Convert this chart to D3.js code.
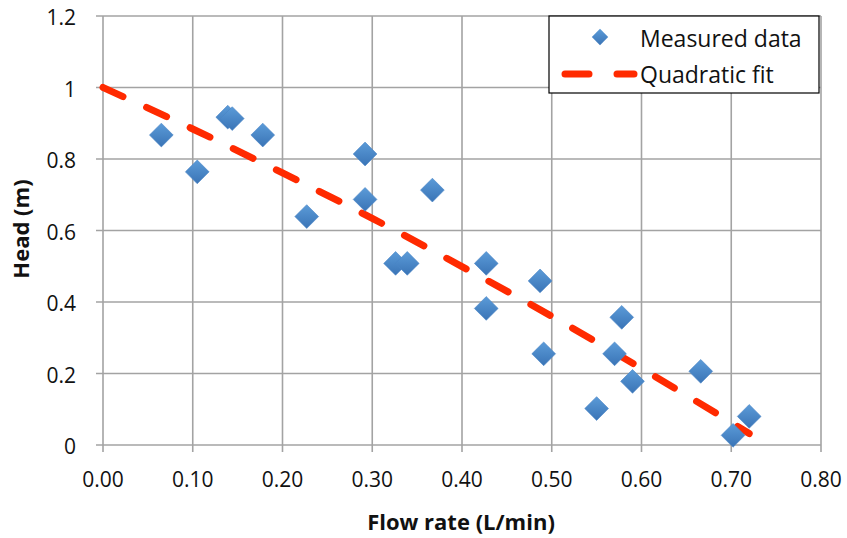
<!DOCTYPE html>
<html><head><meta charset="utf-8">
<script src="https://cdn.jsdelivr.net/npm/d3@7"></script>
<style>body{margin:0;background:#fff}svg{display:block}text{font-family:"Open Sans",Lato,sans-serif}</style>
</head><body><svg id="c" width="847" height="538"></svg>
<script>
const flowRate = [0.065,0.105,0.139,0.144,0.178,0.227,0.292,0.292,0.326,0.339,0.367,0.427,0.427,0.487,0.491,0.550,0.570,0.578,0.590,0.666,0.702,0.720];
const head     = [0.867,0.764,0.917,0.913,0.867,0.639,0.814,0.687,0.508,0.508,0.713,0.508,0.382,0.459,0.255,0.102,0.255,0.357,0.178,0.206,0.027,0.080];
const fitX = [0,0.1,0.2,0.3,0.4,0.5,0.6,0.7,0.72];
const fitY = [1.0,0.884,0.761,0.634,0.499,0.360,0.214,0.063,0.032];
const xTicks = [0,0.1,0.2,0.3,0.4,0.5,0.6,0.7,0.8];
const yTicks = [0,0.2,0.4,0.6,0.8,1.0,1.2];
const yTickLabels = ["0","0.2","0.4","0.6","0.8","1","1.2"];
const seriesNames = ["Measured data","Quadratic fit"];

const svg = d3.select("#c");
const L=103,R=821,T=16,B=445;
const x = d3.scaleLinear().domain([0,0.8]).range([L,R]);
const y = d3.scaleLinear().domain([0,1.2]).range([B,T]);
const grid="#a3a3a3";

const defs = svg.append("defs");
const g = defs.append("linearGradient").attr("id","dg").attr("x1",0).attr("y1",0).attr("x2",0).attr("y2",1);
g.append("stop").attr("offset","0%").attr("stop-color","#5b9bd8");
g.append("stop").attr("offset","100%").attr("stop-color","#3a74b6");

// grid
svg.append("g").selectAll("line").data(xTicks).join("line")
  .attr("x1",d=>x(d)).attr("x2",d=>x(d)).attr("y1",T).attr("y2",B+7)
  .attr("stroke",grid).attr("stroke-width",1.6);
svg.append("g").selectAll("line").data(yTicks).join("line")
  .attr("x1",L-7).attr("x2",R).attr("y1",d=>y(d)).attr("y2",d=>y(d))
  .attr("stroke",grid).attr("stroke-width",1.6);

// tick labels
svg.append("g").selectAll("text").data(xTicks).join("text")
  .attr("x",d=>x(d)).attr("y",487).attr("text-anchor","middle")
  .attr("font-size",21).attr("fill","#111").text(d=>d3.format(".2f")(d));
svg.append("g").selectAll("text").data(yTicks).join("text")
  .attr("x",76).attr("y",d=>y(d)+9).attr("text-anchor","end")
  .attr("font-size",21).attr("fill","#111").text((d,i)=>yTickLabels[i]);

// axis titles
svg.append("text").attr("x",461).attr("y",530).attr("text-anchor","middle")
  .attr("font-size",22).attr("font-weight","bold").attr("fill","#111").text("Flow rate (L/min)");
svg.append("text").attr("transform","translate(29,229) rotate(-90)").attr("text-anchor","middle")
  .attr("font-size",22).attr("font-weight","bold").attr("fill","#111").text("Head (m)");

// fit line
const line = d3.line().x(d=>x(d[0])).y(d=>y(d[1])).curve(d3.curveMonotoneX);
svg.append("path").datum(fitX.map((v,i)=>[v,fitY[i]])).attr("d",line)
  .attr("fill","none").attr("stroke","#ff2a00").attr("stroke-width",7)
  .attr("stroke-linecap","round").attr("stroke-dasharray","22,26");

// points
const diamond = d3.symbol().type(d3.symbolDiamond2);
svg.append("g").selectAll("path").data(flowRate.map((v,i)=>[v,head[i]])).join("path")
  .attr("d",diamond.size(360)()).attr("transform",d=>`translate(${x(d[0])},${y(d[1])})`)
  .attr("fill","url(#dg)").attr("stroke","#4a85c6").attr("stroke-width",0.6);

// legend
const lg = svg.append("g");
lg.append("rect").attr("x",549).attr("y",16).attr("width",270).attr("height",77)
  .attr("fill","#fff").attr("stroke","#000").attr("stroke-width",1.2);
lg.append("path").attr("d",diamond.size(170)()).attr("transform","translate(600,37)").attr("fill","url(#dg)");
lg.append("line").attr("x1",565).attr("x2",634).attr("y1",74).attr("y2",74)
  .attr("stroke","#ff2a00").attr("stroke-width",7).attr("stroke-linecap","round").attr("stroke-dasharray","24,28");
lg.append("text").attr("x",640).attr("y",47).attr("font-size",23).attr("fill","#111").text(seriesNames[0]);
lg.append("text").attr("x",640).attr("y",83).attr("font-size",23).attr("fill","#111").text(seriesNames[1]);
</script></body></html>
